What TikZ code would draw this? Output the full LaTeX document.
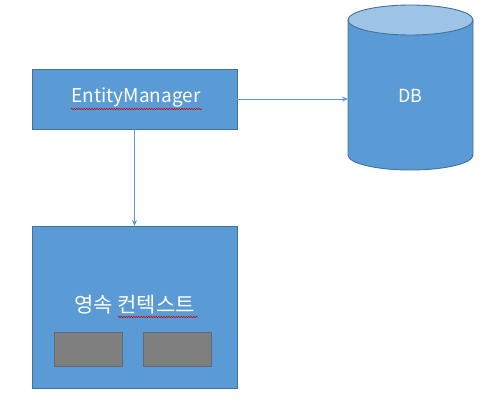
\documentclass[tikz,border=0pt]{standalone}
\usepackage{fontspec}
\setmainfont{Noto Sans CJK KR}
\usetikzlibrary{arrows.meta,decorations.pathmorphing}
\definecolor{boxfill}{HTML}{5B9BD5}
\definecolor{boxline}{HTML}{41719C}
\definecolor{toplight}{HTML}{9DC3E6}
\definecolor{grayfill}{HTML}{7F7F7F}
\definecolor{grayline}{HTML}{5E6B79}
\definecolor{conn}{HTML}{5B9BD5}
\tikzset{
  bluebox/.style={draw=boxline, fill=boxfill, line width=0.9pt},
  graybox/.style={draw=grayline, fill=grayfill, line width=0.9pt},
  lbl/.style={text=white, inner sep=0pt},
  conline/.style={draw=conn, line width=0.8pt, -{Stealth[length=6pt,width=5pt]}},
  squig/.style={draw=red!80!black, line width=0.5pt, decorate, decoration={snake, amplitude=0.7pt, segment length=2.5pt}}
}
\begin{document}
\begin{tikzpicture}[x=1pt,y=-1pt]
\useasboundingbox (0,0) rectangle (495,409);
% EntityManager box
\draw[bluebox] (32,69) rectangle (237,129);
\node[lbl, font=\fontsize{19}{19}\selectfont] (em) at (136,98) {EntityManager};
\coordinate (emR) at (237,99);
\coordinate (emB) at (134.5,129);
\draw[squig] (71,109) -- (202,109);
% Persistence context box
\draw[bluebox] (32,226) rectangle (237,388);
\coordinate (pcT) at (134.5,226);
\node[lbl, font=\fontsize{21}{21}\selectfont] (pc) at (134.5,305) {영속 컨텍스트};
\draw[squig] (118,317) -- (198,317);
\node[graybox, minimum width=68pt, minimum height=34pt, inner sep=0pt] (g1) at (88,349) {};
\node[graybox, minimum width=68pt, minimum height=34pt, inner sep=0pt] (g2) at (177,349) {};
% DB cylinder
\draw[bluebox] (348,20) -- (348,155) arc[start angle=180, end angle=0, x radius=62.5, y radius=15] -- (473,20);
\draw[bluebox, fill=toplight] (410.5,20) ellipse[x radius=62.5, y radius=15];
\coordinate (dbL) at (348,99);
\node[lbl, font=\fontsize{18}{18}\selectfont] (db) at (410.5,96) {DB};
% connectors
\draw[conline] (emR) -- (dbL);
\draw[conline] (emB) -- (pcT);
\end{tikzpicture}
\end{document}
